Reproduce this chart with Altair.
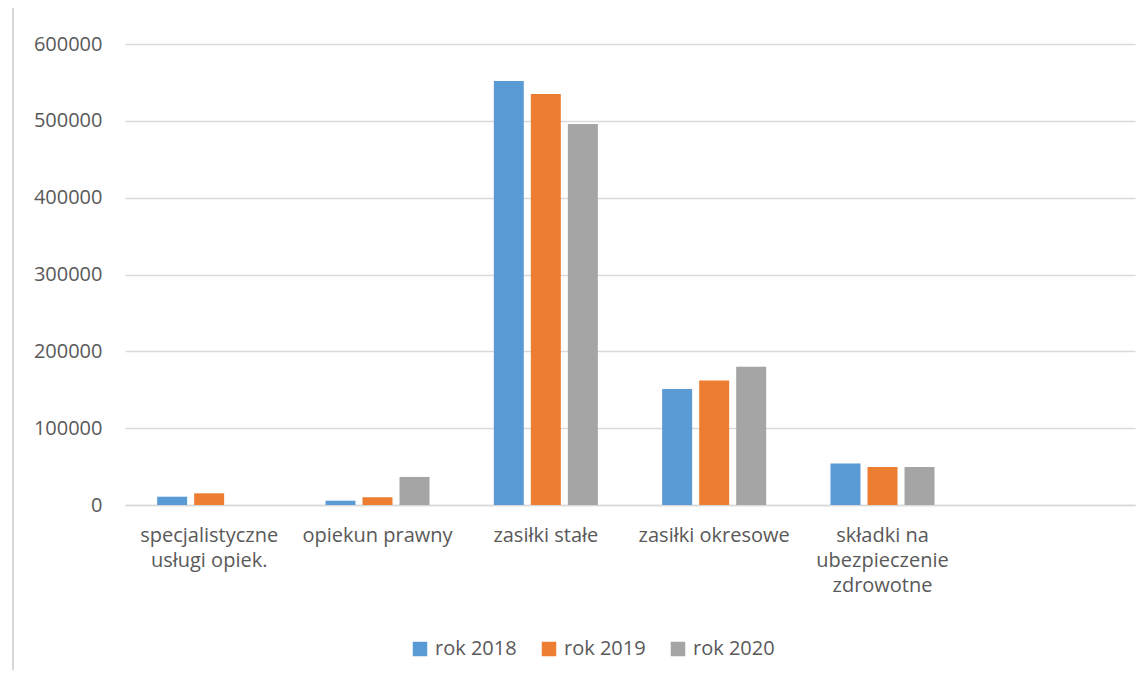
import altair as alt
import pandas as pd

categories = [
    "specjalistyczne|usługi opiek.",
    "opiekun prawny",
    "zasiłki stałe",
    "zasiłki okresowe",
    "składki na|ubezpieczenie|zdrowotne",
    " ",
]
series = ["rok 2018", "rok 2019", "rok 2020"]
v2018 = [10800, 5600, 552000, 151000, 54000]
v2019 = [15200, 10000, 535000, 162000, 49500]
v2020 = [None, 36500, 496000, 180000, 49500]
colors = ["#5B9BD5", "#ED7D31", "#A5A5A5"]
y_ticks = [0, 100000, 200000, 300000, 400000, 500000, 600000]

rows = []
for vals, s in zip([v2018, v2019, v2020], series):
    for c, v in zip(categories, vals):
        if v is not None:
            rows.append({"kategoria": c, "seria": s, "wartosc": v})
df = pd.DataFrame(rows)

FONT = "Open Sans"
TXT = "#595959"

bars = alt.Chart(df).mark_bar().encode(
    x=alt.X(
        "kategoria:N",
        sort=categories,
        scale=alt.Scale(domain=categories, paddingInner=0.382, paddingOuter=0.191),
        axis=alt.Axis(
            title=None,
            labelAngle=0,
            labelExpr="split(datum.label, '|')",
            labelFont=FONT,
            labelFontSize=20,
            labelColor=TXT,
            labelPadding=20,
            labelLineHeight=25,
            labelBaseline="top",
            ticks=False,
            domainColor="#D9D9D9",
            domainWidth=1.5,
            labelLimit=300,
        ),
    ),
    xOffset=alt.XOffset(
        "seria:N",
        sort=series,
        scale=alt.Scale(domain=series, paddingInner=0.19, paddingOuter=0),
    ),
    y=alt.Y(
        "wartosc:Q",
        scale=alt.Scale(domain=[0, 600000], nice=False),
        axis=alt.Axis(
            title=None,
            values=y_ticks,
            format="d",
            labelFont=FONT,
            labelFontSize=20,
            labelColor=TXT,
            labelPadding=23,
            ticks=False,
            domain=False,
            gridColor="#D9D9D9",
            gridWidth=1.5,
        ),
    ),
    color=alt.Color(
        "seria:N",
        sort=series,
        scale=alt.Scale(domain=series, range=colors),
        legend=alt.Legend(
            title=None,
            orient="none",
            direction="horizontal",
            legendX=285,
            legendY=595,
            symbolType="square",
            symbolSize=210,
            symbolStrokeWidth=0,
            labelFont=FONT,
            labelFontSize=20,
            labelColor=TXT,
            labelOffset=5,
            columnPadding=22,
        ),
    ),
)

border = alt.Chart(pd.DataFrame({"a": [0]})).mark_rule(color="#D9D9D9", strokeWidth=2).encode(
    x=alt.value(-112), y=alt.value(-44), y2=alt.value(634)
)

chart = alt.layer(bars, border).properties(
    width=1010,
    height=461,
    autosize=alt.AutoSizeParams(type="none"),
    padding={"left": 117, "top": 36, "right": 5, "bottom": 165},
).configure_view(stroke=None)

chart.save("out.html", embed_options={"renderer": "svg", "actions": False})
